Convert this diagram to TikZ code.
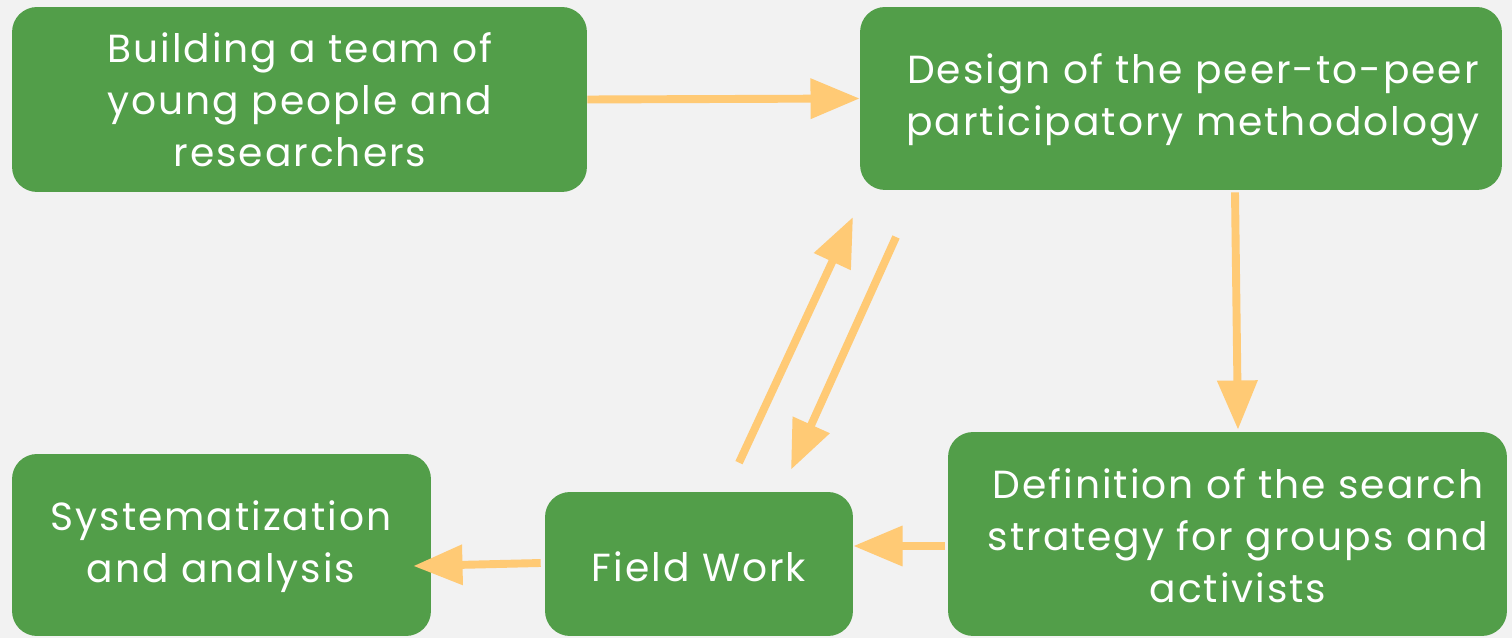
\documentclass[tikz,border=0pt]{standalone}
\usepackage{fontspec}
\setmainfont{Poppins}[LetterSpace=5]
\usetikzlibrary{arrows.meta,calc}
\definecolor{boxgreen}{HTML}{529E49}
\definecolor{arrowy}{HTML}{FFCA75}
\definecolor{bg}{HTML}{F2F2F2}
\begin{document}
\begin{tikzpicture}[x=0.02cm,y=-0.02cm,
  box/.style={draw=none,fill=boxgreen,rounded corners=0.5cm,inner sep=0pt},
  txt/.style={text=white,align=center,inner sep=0pt,font=\fontsize{22.3}{29.5}\selectfont},
  conn/.style={draw=arrowy,line width=4.5pt,-{Triangle[length=28pt,width=22pt]}}]
\useasboundingbox (0,0) rectangle (1512,638);
\fill[bg] (0,0) rectangle (1512,638);
\clip (0,0) rectangle (1512,638);
% boxes
\node[box,minimum width=11.5cm,minimum height=3.7cm] (A) at (299.5,99.5) {};
\node[box,minimum width=12.84cm,minimum height=3.66cm] (B) at (1181,98.5) {};
\node[box,minimum width=11.18cm,minimum height=4.08cm] (C) at (1227.5,534) {};
\node[box,minimum width=6.16cm,minimum height=2.88cm] (D) at (699,564) {};
\node[box,minimum width=8.38cm,minimum height=3.64cm] (E) at (221.5,545) {};
% texts
\node[txt] (tA) at (300,100) {Building a team of\\young people and\\researchers};
\node[txt] (tB) at (1193,100) {Design of the peer-to-peer\\participatory methodology};
\node[txt] (tC) at (1238,536) {Definition of the search\\strategy for groups and\\activists};
\node[txt] (tD) at (699,567) {Field Work};
\node[txt] (tE) at (221,547) {Systematization\\and analysis};
% connectors
\draw[conn] (A.east) -- (B.west);
\draw[conn] ($(B.south)+(54,2)$) -- ($(C.north)+(10.5,-2)$);
\draw[conn] ($(C.west)+(-3,12)$) -- ($(D.east)+(0,-18)$);
\draw[conn] ($(D.west)+(-4,-1)$) -- ($(E.east)+(-18,21)$);
\coordinate (upend) at (853,217);
\coordinate (downstart) at (896,237);
\draw[conn] ($(D.north)+(40,-29)$) -- (upend);
\draw[conn] (downstart) -- ($(D.north)+(92,-22)$);
\end{tikzpicture}
\end{document}
